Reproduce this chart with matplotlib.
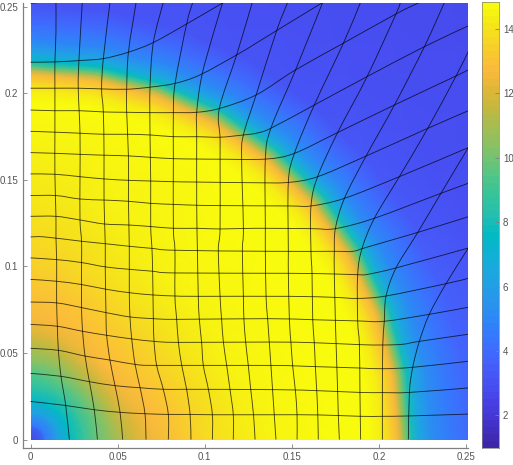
import numpy as np
import matplotlib
matplotlib.use("Agg")
import matplotlib.pyplot as plt
from matplotlib.colors import LinearSegmentedColormap
from matplotlib.patches import Rectangle, PathPatch
from matplotlib.path import Path

plt.rcParams['font.family'] = ['Liberation Sans', 'DejaVu Sans']

# field values: radius (mm), angle (deg), value
radius_mm = [0, 8, 15, 22, 30, 38, 45, 52, 60, 70, 85, 100, 120, 140, 170, 195, 202, 207, 211, 214, 216, 219, 223, 230, 240, 252, 280, 320, 370]
angle_deg = [0, 10, 20, 30, 40, 50, 60, 70, 80, 90]
field = [
    [2.0]*10,
    [4.3]*10,
    [6.0]*10,
    [7.6, 7.6, 7.6, 7.5, 7.5, 7.5, 7.5, 7.4, 7.4, 7.4],
    [8.8, 8.8, 8.8, 8.8, 8.8, 8.7, 8.7, 8.6, 8.6, 8.5],
    [9.8, 9.8, 9.8, 9.9, 9.9, 9.9, 9.8, 9.7, 9.5, 9.4],
    [10.5, 10.6, 10.8, 10.9, 11.0, 11.0, 10.8, 10.6, 10.4, 10.3],
    [11.2, 11.5, 11.8, 12.0, 12.0, 12.0, 11.8, 11.5, 11.2, 11.0],
    [12.0, 12.2, 12.5, 12.7, 12.8, 12.8, 12.6, 12.4, 12.2, 12.0],
    [12.6, 12.8, 12.9, 13.1, 13.1, 13.1, 13.0, 12.9, 12.8, 12.7],
    [13.2, 13.3, 13.5, 13.6, 13.6, 13.6, 13.5, 13.3, 13.2, 13.1],
    [13.8, 13.9, 14.0, 14.1, 14.1, 14.1, 14.0, 13.8, 13.6, 13.5],
    [14.3, 14.4, 14.5, 14.5, 14.5, 14.5, 14.4, 14.2, 14.0, 13.9],
    [14.6, 14.7, 14.7, 14.7, 14.7, 14.7, 14.6, 14.5, 14.3, 14.2],
    [14.8, 14.8, 14.8, 14.8, 14.8, 14.8, 14.7, 14.7, 14.6, 14.5],
    [14.8]*10,
    [14.3]*10,
    [13.5]*10,
    [12.7]*10,
    [11.0, 11.0, 11.0, 11.0, 11.0, 11.0, 11.0, 11.0, 10.8, 10.6],
    [9.8, 9.8, 9.8, 9.8, 9.8, 9.8, 9.8, 9.6, 9.4, 9.2],
    [8.0, 8.0, 8.0, 8.0, 8.0, 8.0, 8.0, 7.8, 7.6, 7.4],
    [6.5, 6.5, 6.5, 6.4, 6.4, 6.4, 6.4, 6.3, 6.3, 6.3],
    [5.3, 5.3, 5.2, 5.1, 5.1, 5.1, 5.0, 5.0, 5.0, 5.0],
    [4.6, 4.5, 4.3, 4.2, 4.1, 4.1, 4.0, 4.0, 4.0, 4.0],
    [3.9, 3.8, 3.5, 3.3, 3.2, 3.1, 3.1, 3.1, 3.0, 3.0],
    [3.2, 3.1, 3.0, 2.9, 2.9, 2.9, 2.9, 2.9, 2.9, 2.9],
    [2.8]*10,
    [2.7]*10,
]

# deformed mesh lines (x, y in mm), horizontal family
h01 = [(0,22.0),(19.8,19.7),(36.6,17.2),(51.4,15.7),(65.7,14.9),(79.1,14.5),(91.6,14.5),(104.4,14.3),(140.9,14.3),(165.2,14.2),(189.5,13.4),(202,13.4),(216.9,13.6),(251.3,14.7)]
h02 = [(0,38.2),(17.5,36.5),(33.8,33.4),(48.5,31.1),(62.9,29.9),(76.2,29.0),(89.6,29.0),(140.9,28.8),(164.9,28.2),(189.1,27.2),(202,27.1),(217.5,27.2),(251.3,29.8)]
h03 = [(0,52.7),(16,51.5),(31.3,48.2),(45.6,45.9),(60,43.4),(72.4,42.8),(138,42.8),(163.5,42.1),(188.8,41.3),(202.2,40.9),(219.4,41.7),(251.3,45.2)]
h04 = [(0,66.5),(15.4,65.4),(29.9,62.5),(43.7,60.2),(58.1,58.1),(70.9,56.7),(84.9,56.1),(137.1,56.3),(162.9,55.9),(188.8,54.8),(202.2,54.6),(213.6,55),(223.2,56.7),(251.3,60.8)]
h05 = [(0,79.4),(15,78.9),(29.3,76.2),(43.3,73.3),(57.1,70.8),(70.5,69.8),(83.9,69.4),(136.1,69.8),(162,69.2),(187.8,68.5),(203.1,68.3),(228.9,72.3),(251.3,76.4)]
h06 = [(0,92.5),(15,91.4),(29.3,89.5),(43.3,86.8),(56.7,84.8),(70.1,83.5),(82.9,82.9),(96.3,82.7),(148.6,82.7),(174.4,82.1),(187.8,81.5),(204.1,82.9),(238.5,90),(251.3,93.1)]
h07 = [(0,104.9),(15,103.9),(29.3,102.2),(42.9,99.7),(56.7,98.3),(70.1,97.2),(82.9,96.2),(148,96),(174.4,95.6),(187.8,95.2),(193.5,95.4),(209.8,99.1),(251.3,110.6)]
h08 = [(0,117),(8.2,117),(29.3,114.5),(42.9,113.1),(56.7,111.6),(69.7,110.4),(82.9,109.3),(138,108.7),(174.4,108.7),(185,108.7),(193.5,111.2),(223.2,119.9),(251.3,128.7)]
h09 = [(0,128.9),(14.6,128.9),(28.4,126.8),(42.2,124.5),(56.2,123.9),(69,123),(82,122),(95.8,122),(108.8,121.6),(129.5,122),(161,121.8),(175,121.8),(197.4,127.8),(235.6,142.2),(251.3,148)]
h10 = [(0,140.9),(14.6,140.9),(28.4,138.9),(42.2,138.3),(56.2,137.6),(69,136.4),(82,135.8),(95.4,135.3),(108.8,135.1),(148.6,134.9),(161,134.9),(180.2,139.3),(211.7,151.8),(251.3,168.6)]
h11 = [(0,153.4),(14,153.2),(28.4,151.8),(42.2,150.5),(56.2,149.7),(69,149.3),(82,148.9),(95.4,148.7),(129.5,148.3),(148,148.5),(164.8,151.8),(192.6,163.7),(228,179.7),(251.3,189.9)]
h12 = [(0,165.7),(14,165.3),(28.4,164.7),(42.2,164.2),(56.2,163.8),(68.6,163),(82,162.2),(95.4,162),(108.8,161.9),(135.2,162),(151.5,165.3),(176.3,177.3),(208.9,193.2),(244.3,210),(251.3,213.5)]
h13 = [(0,178),(14,177.5),(28.4,176.9),(41.8,176.3),(55.2,176.3),(68.6,175.9),(82,174.9),(95.4,174.9),(108.8,174.6),(122.2,175.9),(129.5,176.9),(138,179.8),(162.9,193.2),(193.2,209.6),(226.1,226.9),(251.3,238.9)]
h14 = [(0,190.3),(14,189.9),(28.4,189.9),(41.8,189.2),(55.2,189),(68.6,188.8),(82,188.8),(95.4,189),(108.8,191.3),(129.5,199),(151.5,213.1),(179.6,228.9),(209.8,245.8),(223.2,252.4)]
h15 = [(0,202.9),(14,202.9),(27.4,202.9),(40.8,202.5),(55.2,202.3),(68.6,203.5),(83,205.7),(97.3,210.6),(118.3,222.1),(129.5,228.9),(141.3,236.2),(167.7,252.4)]
h16 = [(0,217.9),(14,218.1),(28.4,218.9),(41.8,220),(56.2,223.7),(70.5,229.3),(89.6,240),(110.7,252.4)]
h17 = [(0,252),(8.3,252.6)]

# deformed mesh lines, vertical family
v01 = [(22.3,0),(20.2,19.7),(17.5,36.5),(16,51.5),(15.4,65.4),(15,78.9),(15,91.4),(15,103.9),(14.6,117),(14.6,128.9),(14,153.2),(14,177.5),(14,202.9),(14,218.1),(14.6,234.7),(14.6,252.4)]
v02 = [(38.4,0),(36.6,17.2),(33.8,33.4),(31.3,48.2),(29.9,62.5),(29.3,76.2),(29.3,102.2),(29.3,114.5),(28.4,126.8),(28.4,151.8),(28.4,176.9),(27.4,202.9),(27.8,218.9),(29.7,252.4)]
v03 = [(52.9,0),(51.4,15.7),(48.5,31.1),(45.6,45.9),(43.7,60.2),(43.3,73.3),(42.9,99.7),(42.9,113.1),(42.2,138.3),(42.2,164.2),(41.8,189.2),(40.8,202.5),(41.8,220),(45.6,252.4)]
v04 = [(66.3,0),(65.7,14.9),(62.9,29.9),(60,43.4),(58.1,58.1),(57.1,70.8),(56.7,84.8),(56.7,111.6),(56.2,137.6),(56.2,163.8),(55.2,189),(55.2,202.3),(56.2,223.7),(60.6,252.4)]
v05 = [(79.1,0),(79.1,14.5),(76.2,29),(72.4,42.8),(70.9,56.7),(70.5,69.8),(70.1,97.2),(69.7,110.4),(69,123),(69,149.3),(68.6,175.9),(68.6,203.5),(70.5,229.3),(76.2,252.4)]
v06 = [(92.1,0),(91.6,14.5),(89.6,29),(86.8,42.8),(84.9,56.1),(83.9,69.4),(82.9,82.9),(82.9,109.3),(82,122),(82,162.2),(82,188.8),(83,205.7),(89.6,240),(93.1,252.4)]
v07 = [(104.4,0),(104.4,14.3),(102.1,29),(99.2,42.8),(98.2,56.3),(96.9,69.4),(96.3,82.7),(95.8,109.3),(95.4,135.3),(95.4,174.9),(95.4,189),(98.3,210),(105,234.7),(110.3,252.4)]
v08 = [(116.4,0),(116.4,14.3),(114.5,29),(112.6,42.8),(110.7,56.3),(109.7,69.4),(108.8,82.7),(107.8,109.3),(108.8,121.6),(108.8,161.9),(108.8,174.6),(108.4,191.3),(118.3,222.1),(127.3,252.4)]
v09 = [(128.9,0),(128,14.3),(126.4,29),(125,42.8),(123.5,56.3),(122.5,69.4),(122.2,82.7),(121.6,109.3),(122.2,121.8),(121.2,162),(122.2,175.9),(129.5,199),(141.3,236.2),(147.6,252.4)]
v10 = [(140.9,0),(139.9,14.3),(138,42.8),(136.1,69.8),(135.2,82.7),(134.8,108.7),(134.8,123),(134.8,162),(138,179.8),(152,213.1),(167.7,252.4)]
v11 = [(153,0),(153,14.2),(152,28.6),(150.5,42.3),(149.5,55.9),(148.6,69.2),(148,96),(148,108.7),(148,148.5),(151.5,165.3),(162.9,193.2),(179.6,228.9),(189.4,252.4)]
v12 = [(165.2,0),(164.9,14.2),(164.3,28.2),(163.5,42.1),(162.9,55.9),(162,69.2),(161.6,95.6),(161,108.7),(161,134.9),(164.8,151.8),(176.3,177.3),(193.2,209.6),(209.8,245.8),(212.3,252.4)]
v13 = [(177.3,0),(176.7,13.8),(176.3,27.8),(175.4,55.6),(175,68.8),(174.4,95.6),(174.4,108.7),(175,121.8),(180.2,139.3),(192.6,163.7),(208.9,193.2),(226.1,226.9),(237.6,252.4)]
v14 = [(189.5,0),(189.1,27.2),(188.8,54.8),(187.8,68.5),(187.8,95.2),(190.3,110.3),(197.4,127.8),(211.7,151.8),(228,179.7),(244.3,210),(251.3,224.1)]
v15 = [(202,0),(202,27.1),(202.2,54.6),(203.1,68.3),(204.1,82.9),(209.8,99.1),(221.3,118),(235.6,142.2),(251.3,168.6)]
v16 = [(216.9,0),(217.5,27.2),(219.4,41.7),(223.2,56.7),(228.9,72.3),(238.5,90),(251.3,110.6)]

mesh_lines = [h01, h02, h03, h04, h05, h06, h07, h08, h09, h10, h11, h12, h13, h14, h15, h16, h17,
              v01, v02, v03, v04, v05, v06, v07, v08, v09, v10, v11, v12, v13, v14, v15, v16]

x_ticks = [0, 0.05, 0.1, 0.15, 0.2, 0.25]
y_ticks = [0, 0.05, 0.1, 0.15, 0.2, 0.25]
tick_labels = ['0', '0.05', '0.1', '0.15', '0.2', '0.25']
cbar_ticks = [2, 4, 6, 8, 10, 12, 14]
v_min, v_max = 1.0, 14.82

parula_colors = [
    (0.2422, 0.1504, 0.6603), (0.2647, 0.1978, 0.7952), (0.2783, 0.2559, 0.8991),
    (0.2810, 0.3228, 0.9579), (0.2699, 0.3892, 0.9906), (0.2206, 0.4603, 0.9973),
    (0.1786, 0.5289, 0.9682), (0.1540, 0.5902, 0.9218), (0.1248, 0.6459, 0.8883),
    (0.0689, 0.6948, 0.8394), (0.0067, 0.7293, 0.7665), (0.1408, 0.7511, 0.6892),
    (0.2161, 0.7687, 0.6040), (0.3406, 0.7768, 0.5125), (0.5044, 0.7616, 0.4200),
    (0.6300, 0.7450, 0.3300), (0.7500, 0.7250, 0.2600), (0.8700, 0.7150, 0.2200),
    (0.9900, 0.7300, 0.2400), (0.9750, 0.8100, 0.1700), (0.9600, 0.9000, 0.1000),
    (0.9763, 0.9831, 0.0538),
]
parula = LinearSegmentedColormap.from_list('parula', parula_colors, N=256)


def smooth_path(p):
    """Bezier path through the read points, so curved mesh lines are not kinked."""
    if len(p) < 3:
        return Path(p)
    q = np.vstack([p[0], p, p[-1]])
    verts = [p[0]]
    codes = [Path.MOVETO]
    for i in range(1, len(q) - 2):
        verts += [q[i] + (q[i+1] - q[i-1]) / 6, q[i+1] - (q[i+2] - q[i]) / 6, q[i+1]]
        codes += [Path.CURVE4] * 3
    return Path(np.array(verts), codes)


W, H = 513, 465
fig = plt.figure(figsize=(W/100, H/100), dpi=100, facecolor='white')
ax = fig.add_axes([22.5/W, 1-448/H, (468.3-22.5)/W, (448-2.5)/H])

x_max, y_max = 0.2513, 0.2524
r = np.array(radius_mm)/1000
t = np.deg2rad(angle_deg)
R, T = np.meshgrid(r, t, indexing='ij')
quad = ax.pcolormesh(R*np.cos(T), R*np.sin(T), np.array(field), shading='gouraud',
                     cmap=parula, vmin=v_min, vmax=v_max)
quad.set_clip_path(Rectangle((0, 0), x_max, y_max, transform=ax.transData))

for pts in mesh_lines:
    p = np.array(pts, dtype=float)/1000
    ax.add_patch(PathPatch(smooth_path(p), fill=False, edgecolor=(0, 0, 0, 0.7), lw=0.65))

ax.set_xlim(-0.0046, x_max)
ax.set_ylim(-0.0049, y_max)
ax.set_xticks(x_ticks, tick_labels)
ax.set_yticks(y_ticks, tick_labels)
grey = (0.5, 0.5, 0.5)
for s in ('top', 'right'):
    ax.spines[s].set_visible(False)
for s in ('left', 'bottom'):
    ax.spines[s].set_color(grey)
    ax.spines[s].set_linewidth(0.9)
ax.tick_params(direction='in', length=3.2, width=0.6, color=grey, labelcolor=(0.33, 0.33, 0.33),
               labelsize=7, pad=3)

cax = fig.add_axes([482/W, 1-447.7/H, (498.7-482)/W, (447.7-2.5)/H])
grad = np.linspace(v_min, v_max, 64)[:, None]
cax.imshow(grad, origin='lower', aspect='auto', cmap=parula, vmin=v_min, vmax=v_max,
           extent=[0, 1, v_min, v_max])
cax.set_xticks([])
cax.yaxis.tick_right()
cax.set_yticks(cbar_ticks, [str(v) for v in cbar_ticks])
cax.tick_params(direction='in', length=3, width=0.6, color=grey, labelcolor=(0.33, 0.33, 0.33),
                labelsize=7, pad=3)
for s in cax.spines.values():
    s.set_color(grey)
    s.set_linewidth(0.5)

fig.savefig('out.png', dpi=100)
